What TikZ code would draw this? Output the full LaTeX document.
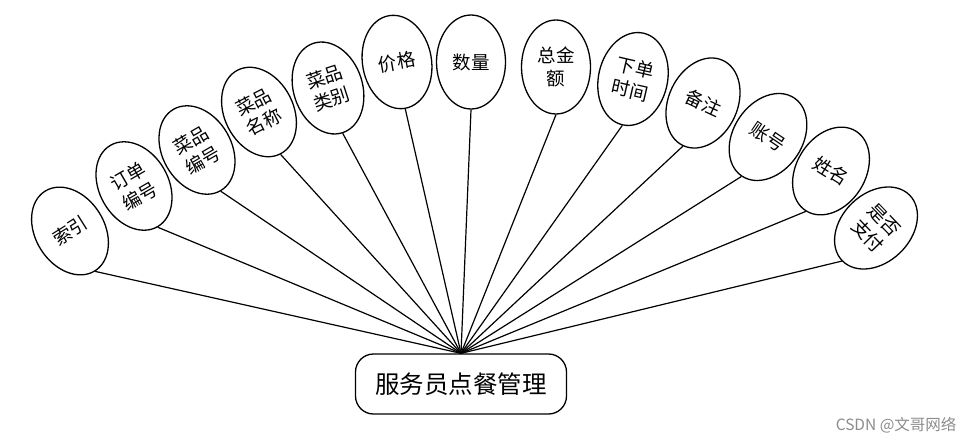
\documentclass[tikz,border=0pt]{standalone}
\usepackage{fontspec}
\setmainfont{Noto Sans CJK SC}
\usetikzlibrary{shapes.geometric}

\begin{document}
\begin{tikzpicture}[
    x=1pt, y=-1pt,
    attr/.style={ellipse, draw=black, line width=1.3pt, fill=white, minimum width=69pt, minimum height=94pt, inner sep=0pt, align=center, font=\fontsize{18.5}{23}\selectfont},
    entity/.style={draw=black, line width=1.3pt, rounded corners=18pt, minimum width=211pt, minimum height=60pt, font=\fontsize{24.5}{27}\selectfont},
    link/.style={line width=1.2pt},
]
\useasboundingbox (0,0) rectangle (974,444);
\node[entity] (mgr) at (461,384) {服务员点餐管理};
\foreach \n/\x/\y/\r/\t in {1/70/231/32/{索引}, 2/134/186/30/{订单\\编号}, 3/197/150/30/{菜品\\编号},
    4/259/112/27/{菜品\\名称}, 5/328/88/18/{菜品\\类别}, 6/397/62/10/{价格}, 7/471/62/0/{数量},
    8/556/67/0/{总金\\额}, 9/633/79/-13/{下单\\时间}, 10/703/103/-25/{备注}, 11/768/137/-34/{账号},
    12/831/171/-32/{姓名}, 13/876/228/-46/{是否\\支付}} {
  \node[attr, rotate=\r] (attr\n) at (\x,\y) {\t};
  \draw[link] (mgr.north) -- (attr\n.south);
}
\node[font=\fontsize{15.5}{18}\selectfont, text=black!45, anchor=east] (mark) at (960,425) {CSDN @文哥网络};
\end{tikzpicture}
\end{document}
